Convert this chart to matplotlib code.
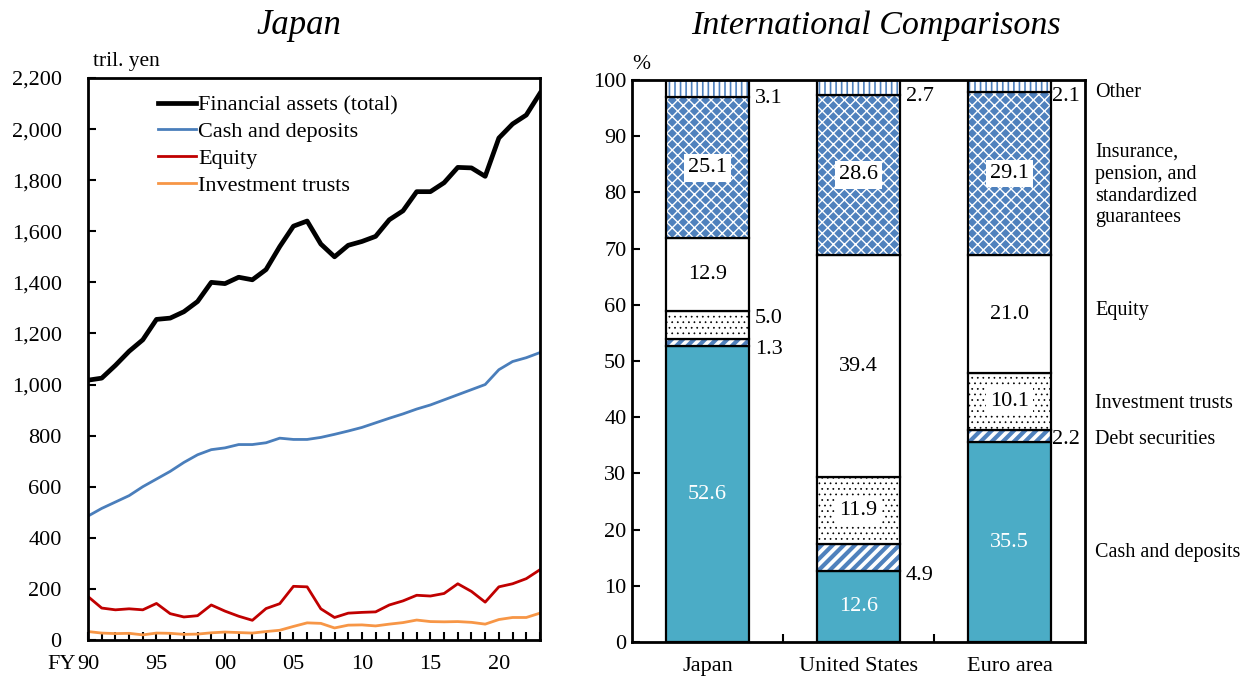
import matplotlib.pyplot as plt
import matplotlib.transforms as mtransforms
import numpy as np

plt.rcParams['font.family'] = ['Liberation Serif', 'DejaVu Serif']
plt.rcParams['hatch.linewidth'] = 1.0

# household financial assets in Japan, tril. yen
years = np.arange(1990, 2024)
total = [1017, 1025, 1075, 1130, 1175, 1255, 1260, 1285, 1325, 1400,
         1395, 1420, 1410, 1450, 1540, 1620, 1640, 1550, 1500, 1545,
         1560, 1580, 1645, 1680, 1755, 1755, 1790, 1850, 1848, 1815,
         1965, 2020, 2055, 2140]
cash = [485, 515, 540, 565, 600, 630, 660, 695, 725, 745,
        752, 765, 765, 772, 790, 785, 785, 793, 805, 818,
        832, 850, 868, 885, 904, 920, 940, 960, 980, 1000,
        1058, 1090, 1105, 1125]
equity = [170, 125, 118, 122, 118, 143, 103, 90, 95, 137,
          113, 93, 77, 123, 142, 210, 208, 122, 88, 105,
          108, 110, 137, 153, 175, 172, 182, 220, 190, 148,
          208, 220, 240, 275]
trusts = [33, 27, 25, 26, 20, 27, 26, 22, 23, 28,
          31, 29, 27, 33, 38, 53, 67, 65, 47, 58,
          59, 55, 62, 68, 78, 72, 71, 72, 69, 62,
          80, 88, 88, 105]

# composition by region, %
regions = ['Japan', 'United States', 'Euro area']
shares = {
    'Cash and deposits': [52.6, 12.6, 35.5],
    'Debt securities': [1.3, 4.9, 2.2],
    'Investment trusts': [5.0, 11.9, 10.1],
    'Equity': [12.9, 39.4, 21.0],
    'Insurance': [25.1, 28.6, 29.1],
    'Other': [3.1, 2.7, 2.1],
}

BLUE = '#4f81bd'
TEAL = '#4bacc6'

fig = plt.figure(figsize=(12.43, 6.77), dpi=100)

# ---- left panel: time series ----
ax1 = fig.add_axes([0.0708, 0.0547, 0.3636, 0.8301])
ax1.plot(years, total, color='black', lw=3.4, label='Financial assets (total)')
ax1.plot(years, cash, color='#4a7ebb', lw=2, label='Cash and deposits')
ax1.plot(years, equity, color='#c00000', lw=2, label='Equity')
ax1.plot(years, trusts, color='#f79646', lw=2, label='Investment trusts')

ax1.set_xlim(1990, 2023)
ax1.set_ylim(0, 2200)
ax1.set_yticks(np.arange(0, 2201, 200))
ax1.set_yticklabels([f'{v:,}' for v in range(0, 2201, 200)])
ax1.set_xticks(np.arange(1990, 2021, 5))
ax1.set_xticklabels(['90', '95', '00', '05', '10', '15', '20'])
ax1.set_xticks(years, minor=True)
ax1.tick_params(axis='both', which='both', direction='in', labelsize=16, width=1.5)
ax1.tick_params(axis='x', which='both', length=6, pad=11)
ax1.tick_params(axis='y', length=6, pad=19)
for s in ax1.spines.values():
    s.set_linewidth(2)
ax1.text(-0.027, -0.0267, 'FY', transform=ax1.transAxes, ha='right', va='top', fontsize=16)
ax1.text(0.01, 1.012, 'tril. yen', transform=ax1.transAxes, ha='left', va='bottom', fontsize=15.5)
ax1.legend(loc='upper left', bbox_to_anchor=(0.155, 0.97), frameon=False,
           fontsize=16, handlelength=1.7, handletextpad=0.1, labelspacing=0.28,
           borderaxespad=0, borderpad=0)
fig.text(0.2406, 0.962, 'Japan', ha='center', va='center', fontsize=25, style='italic')

# ---- right panel: stacked composition ----
ax2 = fig.add_axes([0.5084, 0.0517, 0.3645, 0.8301])
x = np.arange(len(regions))
w = 0.545
# component, face colour, hatch, hatch colour, hatch line width
styles = [
    ('Cash and deposits', TEAL, None, TEAL, 1.0),
    ('Debt securities', 'white', '///', BLUE, 3.0),
    ('Investment trusts', 'white', '...', 'black', 0.5),
    ('Equity', 'white', None, 'white', 1.0),
    ('Insurance', BLUE, 'xxx', 'white', 1.0),
    ('Other', 'white', '|||', BLUE, 1.2),
]
bottom = np.zeros(len(regions))
for key, face, hatch, hc, hlw in styles:
    vals = np.array(shares[key])
    bars = ax2.bar(x, vals, w, bottom=bottom, color=face, edgecolor=hc,
                   hatch=hatch, linewidth=0)
    for b in bars:
        b.set_hatch_linewidth(hlw)
    ax2.bar(x, vals, w, bottom=bottom, fill=False, edgecolor='black', linewidth=1.6)
    bottom += vals

# labels inside the larger segments
inner = {'Cash and deposits': ('white', False), 'Investment trusts': ('black', True),
         'Equity': ('black', False), 'Insurance': ('black', True)}
bottom = np.zeros(len(regions))
for key, _, _, _, _ in styles:
    vals = np.array(shares[key])
    for i, v in enumerate(vals):
        mid = bottom[i] + v / 2
        if key in inner and v > 8:
            col, box = inner[key]
            bb = dict(facecolor='white', edgecolor='none', pad=3) if box else None
            ax2.text(x[i], mid, f'{v:.1f}', ha='center', va='center', fontsize=16,
                     color=col, bbox=bb)
    bottom += vals

# labels beside the thin segments: (region index, component, y)
side = [(0, 'Other', 96.7), (0, 'Investment trusts', 57.6), (0, 'Debt securities', 52.0),
        (1, 'Other', 97.0), (1, 'Debt securities', 11.9),
        (2, 'Other', 97.0), (2, 'Debt securities', 36.0)]
for i, key, y in side:
    dx = 0.01 if i == 2 else 0.04
    ax2.text(x[i] + w / 2 + dx, y, f'{shares[key][i]:.1f}', ha='left', va='center',
             fontsize=16)

ax2.set_xlim(-0.5, 2.5)
ax2.set_ylim(0, 100)
ax2.set_yticks(np.arange(0, 101, 10))
ax2.set_xticks(x)
ax2.set_xticklabels(regions)
ax2.set_xticks([0.5, 1.5], minor=True)
ax2.tick_params(axis='x', which='major', length=0, pad=11, labelsize=16)
ax2.tick_params(axis='x', which='minor', direction='in', length=6, width=1.5)
ax2.tick_params(axis='y', direction='in', length=6, width=1.5, labelsize=16, pad=4)
for s in ax2.spines.values():
    s.set_linewidth(2)
ax2.text(0.0, 1.01, '%', transform=ax2.transAxes, ha='left', va='bottom', fontsize=15.5)

trans = mtransforms.blended_transform_factory(ax2.transAxes, ax2.transData)
side_names = [('Other', 97.8), ('Insurance,\npension, and\nstandardized\nguarantees', 81.3),
              ('Equity', 59.0), ('Investment trusts', 42.5), ('Debt securities', 36.0),
              ('Cash and deposits', 16.0)]
for name, y in side_names:
    ax2.text(1.022, y, name, transform=trans, ha='left', va='center', fontsize=14.5,
             linespacing=1.2)
fig.text(0.705, 0.962, 'International Comparisons', ha='center', va='center',
         fontsize=24.5, style='italic')

fig.savefig('out.png', dpi=100)
